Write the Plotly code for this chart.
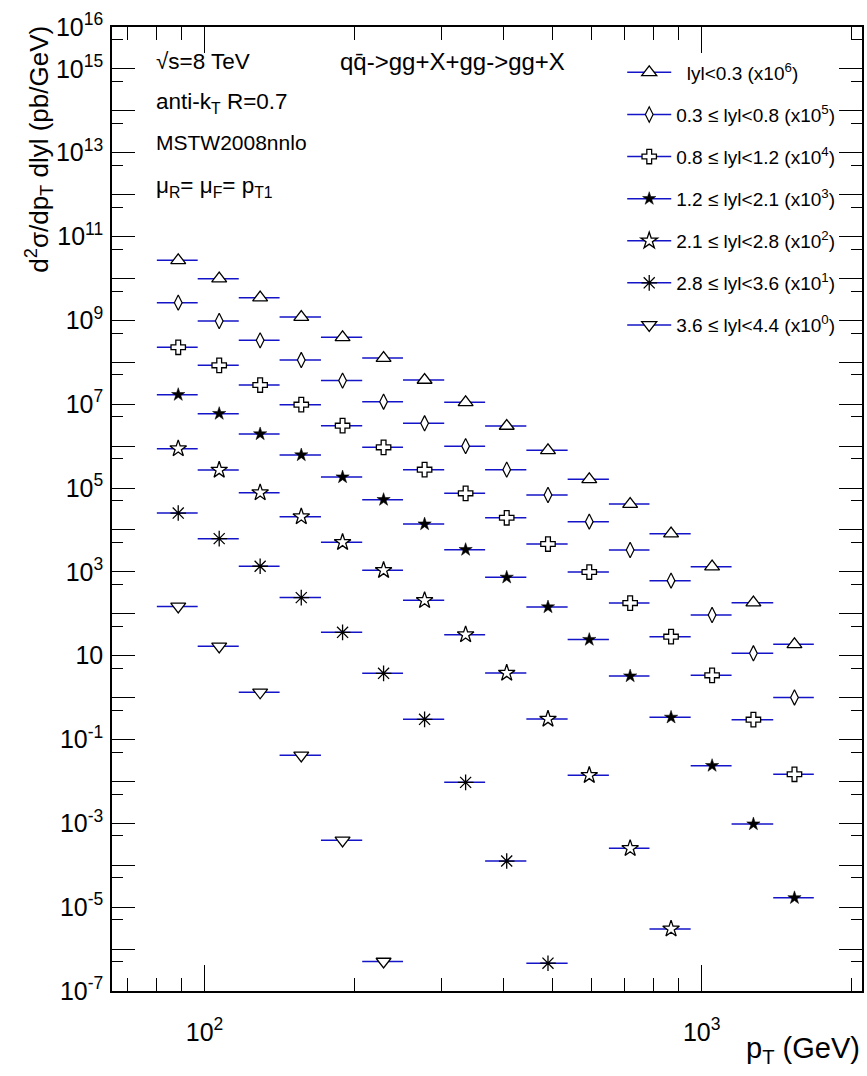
import plotly.graph_objects as go

# pT bin edges (GeV)
edges = [80.2, 96.9, 117.2, 141.6, 171.5, 207.6, 250.8, 303.5, 366.8, 444.0,
         537.6, 650.8, 785.3, 950.4, 1148.6, 1393.0, 1681.0]

# d2sigma/dpT d|y| (pb/GeV), already multiplied by the legend scale factors
y_00_03 = [2.71e10, 9.9e9, 3.49e9, 1.20e9, 3.94e8, 1.26e8, 3.78e7, 1.11e7, 3.02e6,
           7.94e5, 1.61e5, 4.15e4, 8.17e3, 1.33e3, 184, 18.7]
y_03_08 = [2.65e9, 9.66e8, 3.34e8, 1.13e8, 3.66e7, 1.15e7, 3.50e6, 1.00e6, 2.75e5,
           6.81e4, 1.58e4, 3.32e3, 618, 93.3, 11.4, 1.01]
y_08_12 = [2.28e8, 8.47e7, 2.87e7, 9.77e6, 3.08e6, 9.35e5, 2.75e5, 7.48e4, 1.95e4,
           4.61e3, 991, 180, 28.5, 3.40, 0.298, 0.0148]
y_12_21 = [1.69e7, 5.96e6, 1.95e6, 6.14e5, 1.83e5, 5.28e4, 1.38e4, 3.39e3, 740,
           145, 24.2, 3.27, 0.338, 0.0238, 9.62e-4, 1.67e-5]
y_21_28 = [8.71e5, 2.69e5, 7.76e4, 2.08e4, 5.07e3, 1.09e3, 209, 31.8, 3.85,
           0.308, 0.0140, 2.53e-4, 3.03e-6]
y_28_36 = [2.53e4, 6.21e3, 1.36e3, 243, 36.1, 3.79, 0.303, 9.5e-3, 1.26e-4, 4.61e-7]
y_36_44 = [150, 16.7, 1.34, 0.0419, 3.93e-4, 5.06e-7]

labels = [
    "  lyl<0.3 (x10<sup>6</sup>)",
    "0.3 ≤ lyl<0.8 (x10<sup>5</sup>)",
    "0.8 ≤ lyl<1.2 (x10<sup>4</sup>)",
    "1.2 ≤ lyl<2.1 (x10<sup>3</sup>)",
    "2.1 ≤ lyl<2.8 (x10<sup>2</sup>)",
    "2.8 ≤ lyl<3.6 (x10<sup>1</sup>)",
    "3.6 ≤ lyl<4.4 (x10<sup>0</sup>)",
]
series = [y_00_03, y_03_08, y_08_12, y_12_21, y_21_28, y_28_36, y_36_44]

styles = [
    dict(symbol="triangle-up", size=13, color="white", line=dict(color="black", width=1.3)),
    dict(symbol="diamond-tall", size=11, color="white", line=dict(color="black", width=1.2)),
    dict(symbol="cross", size=12, color="white", line=dict(color="black", width=1.3)),
    dict(symbol="star", size=10, color="black", line=dict(color="black", width=0.5)),
    dict(symbol="star", size=12.5, color="white", line=dict(color="black", width=1.3)),
    dict(symbol="asterisk-open", size=13, color="black", line=dict(color="black", width=1.3)),
    dict(symbol="triangle-down", size=13, color="white", line=dict(color="black", width=1.3)),
]

BLUE = "rgb(20,20,200)"

centers = [(edges[i] + edges[i + 1]) / 2 for i in range(len(edges) - 1)]

fig = go.Figure()
for vals, st, lab in zip(series, styles, labels):
    n = len(vals)
    xs = centers[:n]
    ep = [edges[i + 1] - centers[i] for i in range(n)]
    em = [centers[i] - edges[i] for i in range(n)]
    fig.add_trace(go.Scatter(
        x=xs, y=vals, mode="markers", marker=st, showlegend=False,
        error_x=dict(type="data", symmetric=False, array=ep, arrayminus=em,
                     color=BLUE, thickness=1.5, width=0),
    ))

for st, lab in zip(styles, labels):
    fig.add_trace(go.Scatter(
        x=[None], y=[None], mode="lines+markers", marker=st,
        line=dict(color=BLUE, width=1.5), name=lab, legendgroup=lab,
    ))

FONT = "Liberation Sans, Arial, Helvetica, sans-serif"

ydec = list(range(-7, 17))
ylabeled = {16, 15, 13, 11, 9, 7, 5, 3, 1, -1, -3, -5, -7}
ytext = []
for d in ydec:
    if d in ylabeled:
        ytext.append("10" if d == 1 else "10<sup>%d</sup>" % d)
    else:
        ytext.append("")
yminor = [5 * 10.0 ** d for d in range(-7, 16)]

xminor = [70, 80, 90, 200, 300, 400, 500, 600, 700, 800, 900, 2000]

fig.update_layout(
    width=867, height=1076,
    margin=dict(l=112, r=3, t=27, b=85),
    paper_bgcolor="white", plot_bgcolor="white",
    font=dict(family=FONT, color="black"),
    showlegend=True,
    legend=dict(x=0.6803, y=0.9725, xanchor="left", yanchor="top",
                bgcolor="rgba(0,0,0,0)", font=dict(size=19, family=FONT),
                tracegroupgap=14.4, itemwidth=44),
    xaxis=dict(
        type="log", range=[1.81397, 3.3225],
        showgrid=False, zeroline=False,
        showline=True, linecolor="black", linewidth=1.5, mirror="ticks",
        ticks="inside", ticklen=26, tickwidth=1, tickcolor="black",
        tickmode="array", tickvals=[100, 1000],
        ticktext=["10<sup>2</sup>", "10<sup>3</sup>"],
        tickfont=dict(size=25, family=FONT),
        ticklabelstandoff=18,
        minor=dict(tickmode="array", tickvals=xminor, ticks="inside",
                   ticklen=13, tickwidth=1, tickcolor="black", showgrid=False),
    ),
    yaxis=dict(
        type="log", range=[-7, 16],
        showgrid=False, zeroline=False,
        showline=True, linecolor="black", linewidth=1.5, mirror="ticks",
        ticks="inside", ticklen=23, tickwidth=1, tickcolor="black",
        tickmode="array", tickvals=[10.0 ** d for d in ydec], ticktext=ytext,
        tickfont=dict(size=25, family=FONT),
        ticklabelstandoff=2,
        minor=dict(tickmode="array", tickvals=yminor, ticks="inside",
                   ticklen=11, tickwidth=1, tickcolor="black", showgrid=False),
    ),
)

ann = []
def px_x(px):
    return (px - 112) / 752.0
def px_y(py):
    return (991 - py) / 964.0

ann.append(dict(text="√s=8 TeV", x=px_x(154), y=px_y(62), xanchor="left", yanchor="middle", font=dict(size=22.5)))
ann.append(dict(text="anti-k<sub>T</sub> R=0.7", x=px_x(154), y=px_y(103), xanchor="left", yanchor="middle", font=dict(size=22.5)))
ann.append(dict(text="MSTW2008nnlo", x=px_x(154), y=px_y(142), xanchor="left", yanchor="middle", font=dict(size=21)))
ann.append(dict(text="μ<sub>R</sub>= μ<sub>F</sub>= p<sub>T1</sub>", x=px_x(154), y=px_y(187), xanchor="left", yanchor="middle", font=dict(size=22.5)))
ann.append(dict(text="qq̄->gg+X+gg->gg+X", x=px_x(339), y=px_y(62), xanchor="left", yanchor="middle", font=dict(size=24)))
ann.append(dict(text="p<sub>T</sub> (GeV)", x=px_x(864), y=px_y(1050), xanchor="right", yanchor="middle", font=dict(size=29)))
ann.append(dict(text="d<sup>2</sup>σ/dp<sub>T</sub> dlyl (pb/GeV)", x=px_x(38), y=px_y(24), xanchor="center", yanchor="top",
                textangle=-90, font=dict(size=26)))
for a in ann:
    a.update(xref="paper", yref="paper", showarrow=False)
    a["font"]["family"] = FONT
    a["font"]["color"] = "black"
fig.update_layout(annotations=ann)

fig.write_html("out.html", config={"displayModeBar": False},
               post_script="document.body.style.margin='0';document.body.style.padding='0';")
